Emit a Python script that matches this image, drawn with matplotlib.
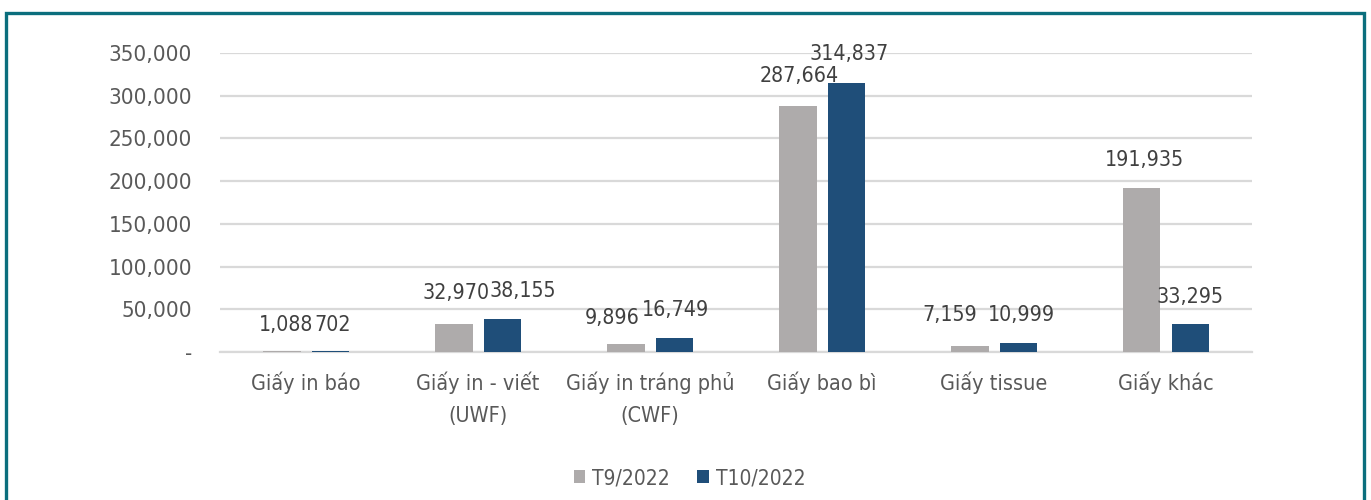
import matplotlib.pyplot as plt
from matplotlib.patches import Rectangle
import numpy as np

categories = ['Giấy in báo', 'Giấy in - viết\n(UWF)', 'Giấy in tráng phủ\n(CWF)',
              'Giấy bao bì', 'Giấy tissue', 'Giấy khác']
t9_2022 = [1088, 32970, 9896, 287664, 7159, 191935]
t10_2022 = [702, 38155, 16749, 314837, 10999, 33295]
series_names = ['T9/2022', 'T10/2022']
yticks = [0, 50000, 100000, 150000, 200000, 250000, 300000, 350000]

# label nudges (pixels) so the value labels sit like the original
nudge_t9 = [(4, 26), (2, 31), (-13, 26), (2, 30), (-20, 31), (3, 28)]
nudge_t10 = [(2, 26), (20, 28), (1, 28), (3, 29), (3, 28), (0, 27)]

plt.rcParams['font.family'] = ['DejaVu Sans']
plt.rcParams['font.stretch'] = 'condensed'
txt = '#595959'
grey = '#AEABAB'
blue = '#1F4E79'

fig = plt.figure(figsize=(13.71, 5), dpi=100)
ax = fig.add_axes([0.1605, 0.296, 0.7527, 0.598])

x = np.arange(len(categories))
w = 0.22
off = 0.142
b1 = ax.bar(x - off, t9_2022, w, color=grey, label=series_names[0], zorder=3)
b2 = ax.bar(x + off, t10_2022, w, color=blue, label=series_names[1], zorder=3)

for bars, nudges in ((b1, nudge_t9), (b2, nudge_t10)):
    for r, (dx, dy) in zip(bars, nudges):
        v = r.get_height()
        ax.annotate(f'{v:,}', (r.get_x() + r.get_width() / 2, v), xytext=(dx, dy),
                    textcoords='offset pixels', ha='center', va='center',
                    fontsize=15.3, color='#404040', annotation_clip=False, zorder=5)

ax.set_xlim(-0.5, len(categories) - 0.5)
ax.set_ylim(0, 350000)
ax.set_yticks(yticks)
ax.set_yticklabels(['-' if t == 0 else f'{t:,}' for t in yticks])
ax.set_xticks(x)
ax.set_xticklabels(categories, linespacing=1.75)
ax.tick_params(axis='both', length=0, labelsize=15.5, colors=txt)
ax.tick_params(axis='y', labelsize=16, pad=20)
ax.tick_params(axis='x', pad=14)
ax.grid(axis='y', color='#D9D9D9', lw=1.6, zorder=0)
for s in ['top', 'right', 'left']:
    ax.spines[s].set_visible(False)
ax.spines['bottom'].set_color('#D9D9D9')
ax.spines['bottom'].set_linewidth(1.6)

leg = fig.legend(loc='center', bbox_to_anchor=(0.503, 0.044), ncol=2, frameon=False,
                 fontsize=15, handlelength=0.55, handleheight=0.55, handletextpad=0.35,
                 columnspacing=1.3)
for t in leg.get_texts():
    t.set_color(txt)

fig.patches.append(Rectangle((6 / 1371, -0.05), 1358 / 1371, 1 - 13 / 500 + 0.05,
                             transform=fig.transFigure, fill=False,
                             edgecolor='#0B6E7D', lw=2.4))

fig.savefig('out.png', dpi=100)
